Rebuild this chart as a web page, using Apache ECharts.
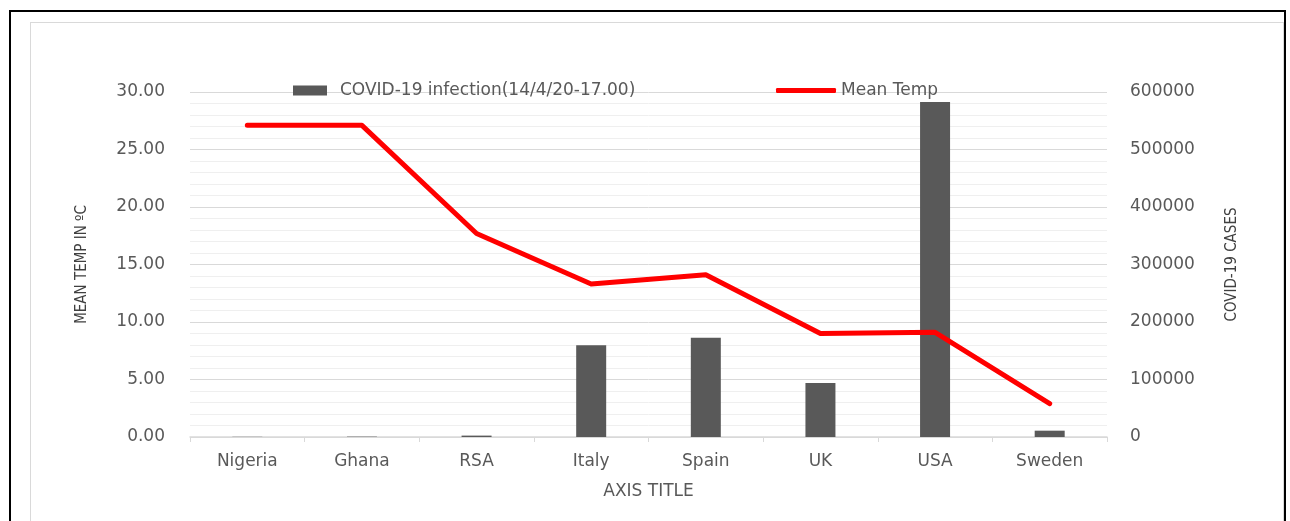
<!DOCTYPE html>
<html>
<head>
<meta charset="utf-8">
<script src="https://cdn.jsdelivr.net/npm/echarts@6/dist/echarts.min.js"></script>
<style>
html,body{margin:0;padding:0;background:#fff;}
#wrap{position:relative;width:1290px;height:521px;overflow:hidden;background:#fff;}
#outer{position:absolute;left:9px;top:10px;width:1277px;height:540px;border:2px solid #000;box-sizing:border-box;}
#inner{position:absolute;left:30px;top:22px;width:1254px;height:540px;border:1px solid #d9d9d9;box-sizing:border-box;}
#chart{position:absolute;left:0;top:0;width:1290px;height:521px;}
</style>
</head>
<body>
<div id="wrap">
<div id="outer"></div>
<div id="inner"></div>
<div id="chart"></div>
</div>
<script>
const categories = ['Nigeria','Ghana','RSA','Italy','Spain','UK','USA','Sweden'];
const covidCases = [343, 636, 2415, 159516, 172541, 93873, 582594, 11000];
const meanTemp = [27.1, 27.1, 17.7, 13.3, 14.1, 9.0, 9.1, 2.9];
const leftTicks = [0, 30, 5];
const rightTicks = [0, 600000, 100000];

const FONT = '"DejaVu Sans", "Open Sans", sans-serif';
const TXT = '#595959';
const chart = echarts.init(document.getElementById('chart'));
chart.setOption({
  backgroundColor: 'transparent',
  animation: false,
  textStyle: {fontFamily: FONT},
  legend: [
    {data: [{name: 'COVID-19 infection(14/4/20-17.00)', icon: 'rect'}], left: 288, top: 77, itemWidth: 34, itemHeight: 10,
     textStyle: {color: TXT, fontSize: 17, fontFamily: FONT, padding: [0,0,0,8]}},
    {data: [{name: 'Mean Temp', icon: 'roundRect'}], left: 771, top: 77, itemWidth: 60, itemHeight: 5,
     textStyle: {color: TXT, fontSize: 17, fontFamily: FONT, padding: [0,0,0,0]}}
  ],
  grid: {left: 190, right: 183, top: 92, bottom: 84},
  xAxis: {
    type: 'category', data: categories,
    axisLine: {lineStyle: {color: '#d9d9d9', width: 1.5}},
    axisTick: {show: true, length: 5, lineStyle: {color: '#d9d9d9'}},
    axisLabel: {color: TXT, fontSize: 17, margin: 16, fontFamily: FONT},
    name: 'AXIS TITLE', nameLocation: 'middle', nameGap: 46,
    nameTextStyle: {color: TXT, fontSize: 17, fontFamily: FONT}
  },
  yAxis: [
    {type: 'value', min: leftTicks[0], max: leftTicks[1], interval: leftTicks[2],
     axisLine: {show: false}, axisTick: {show: false},
     axisLabel: {color: TXT, fontSize: 17, margin: 25, fontFamily: FONT, formatter: v => v.toFixed(2)},
     splitLine: {show: true, lineStyle: {color: '#d9d9d9', width: 1}},
     minorTick: {show: false, splitNumber: 5},
     minorSplitLine: {show: true, lineStyle: {color: '#efefef', width: 1}},
     name: 'MEAN TEMP IN ºC', nameLocation: 'middle', nameGap: 100, nameRotate: 90,
     nameTextStyle: {color: '#404040', fontSize: 15, fontFamily: '"Liberation Sans Narrow", "DejaVu Sans Condensed", sans-serif'}},
    {type: 'value', min: rightTicks[0], max: rightTicks[1], interval: rightTicks[2],
     axisLine: {show: false}, axisTick: {show: false}, splitLine: {show: false},
     axisLabel: {color: TXT, fontSize: 17, margin: 23, fontFamily: FONT, formatter: v => String(v)},
     name: 'COVID-19 CASES', nameLocation: 'middle', nameGap: 118, nameRotate: 90,
     nameTextStyle: {color: '#404040', fontSize: 15, fontFamily: '"Liberation Sans Narrow", "DejaVu Sans Condensed", sans-serif'}}
  ],
  series: [
    {name: 'COVID-19 infection(14/4/20-17.00)', type: 'bar', yAxisIndex: 1, data: covidCases,
     barWidth: 30, itemStyle: {color: '#595959'}},
    {name: 'Mean Temp', type: 'line', yAxisIndex: 0, data: meanTemp, showSymbol: false, symbol: 'none',
     lineStyle: {color: '#ff0000', width: 5, cap: 'round', join: 'round'}, itemStyle: {color: '#ff0000'}}
  ]
});
</script>
</body>
</html>
